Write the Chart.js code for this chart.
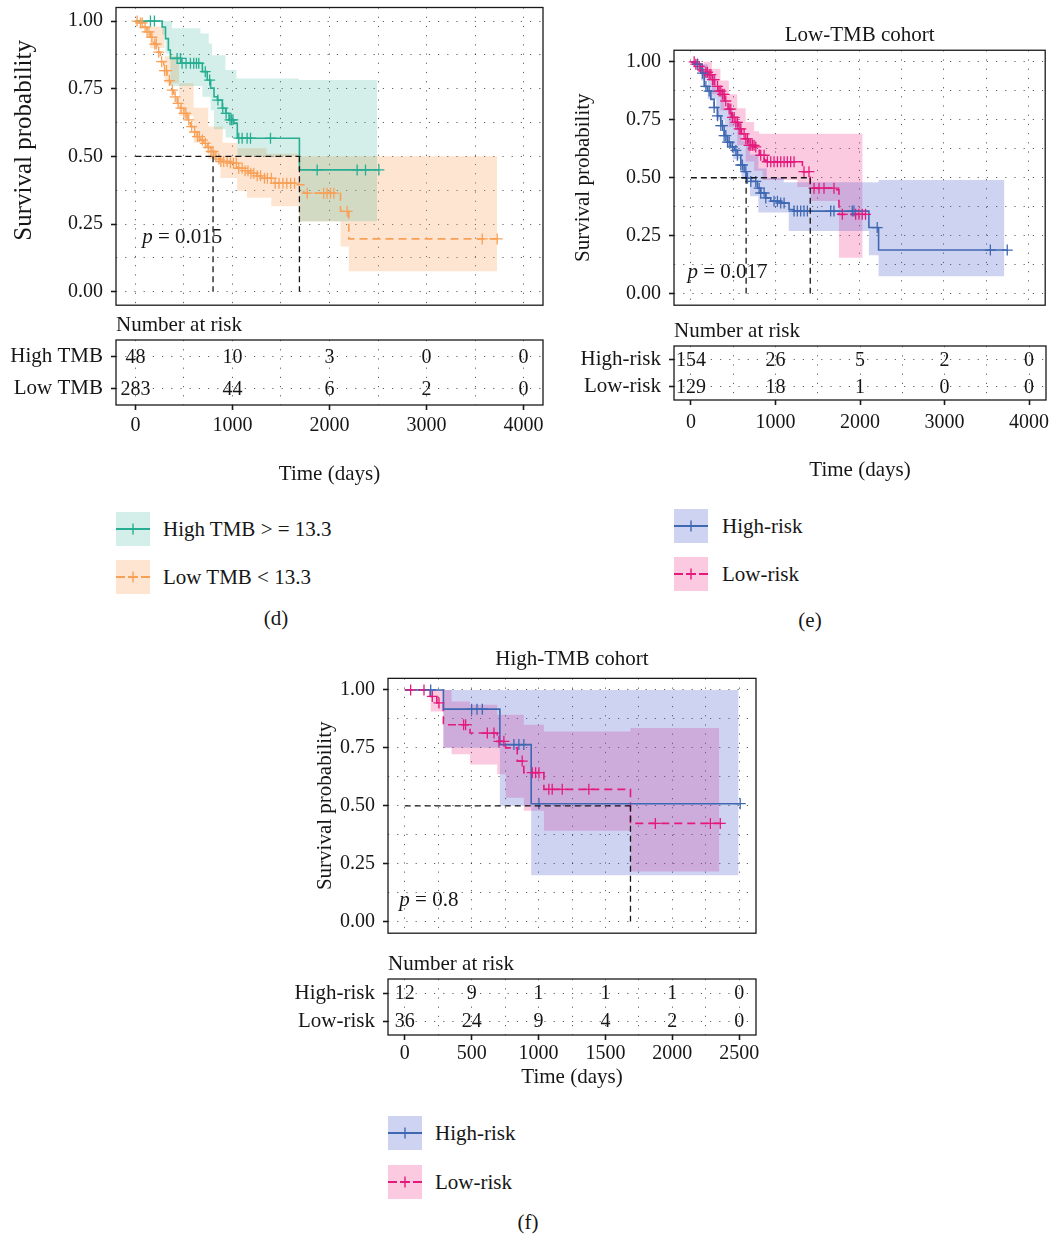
<!DOCTYPE html>
<html>
<head>
<meta charset="utf-8">
<title>Kaplan-Meier curves by TMB and risk group</title>
<script src="https://cdn.jsdelivr.net/npm/chart.js@4.4.1/dist/chart.umd.min.js"></script>
<style>
  html, body { margin: 0; padding: 0; background: #fff; }
  #page { position: relative; width: 1052px; height: 1237px; overflow: hidden;
          font-family: "Liberation Serif", "Times New Roman", serif; color: #161616; }
  #page canvas { position: absolute; }
  .lbl { position: absolute; font-size: 21px; line-height: 24px; white-space: nowrap; }
  .sw { position: absolute; }
</style>
</head>
<body>
<div id="page">
  <canvas id="kmD"></canvas>
  <canvas id="riskD"></canvas>
  <canvas id="kmE"></canvas>
  <canvas id="riskE"></canvas>
  <canvas id="kmF"></canvas>
  <canvas id="riskF"></canvas>
</div>
<script>
const FONT = '"Liberation Serif", "Times New Roman", serif';
Chart.defaults.font.family = FONT;
Chart.defaults.font.size = 21;
Chart.defaults.color = '#161616';

// colours
const tealLine = '#27ad92', tealBand = 'rgba(39,173,146,0.2)';
const orangeLine = '#f7a158', orangeBand = 'rgba(250,160,85,0.27)';
const blueLine = '#3f68b3', blueBand = 'rgba(70,85,205,0.26)';
const pinkLine = '#e31a7c', pinkBand = 'rgba(245,50,135,0.26)';

// axis ticks / grid
const survGrid = [0, 0.125, 0.25, 0.375, 0.5, 0.625, 0.75, 0.875, 1];
const survTicks = [0, 0.25, 0.5, 0.75, 1];
const dayGrid4000 = [0, 500, 1000, 1500, 2000, 2500, 3000, 3500, 4000];
const dayTicks4000 = [0, 1000, 2000, 3000, 4000];
const dayGrid2500 = [0, 250, 500, 750, 1000, 1250, 1500, 1750, 2000, 2250, 2500];
const dayTicks2500 = [0, 500, 1000, 1500, 2000, 2500];

// ---- (d) all patients, High vs Low TMB ----
const dHighSteps = [[0,1],[275,0.978],[310,0.935],[340,0.893],[360,0.862],[470,0.844],[690,0.813],[740,0.782],[775,0.752],[810,0.72],[845,0.708],[895,0.678],[930,0.659],[965,0.635],[1015,0.622],[1050,0.567],[1690,0.45],[2509,0.45]];
const dHighCensor = [155,196,430,464,481,522,567,601,629,653,720,765,850,900,935,975,990,1005,1065,1100,1151,1186,1392,1873,2285,2371,2509];
const dHighUpper = [[0,1],[378,0.973],[670,0.954],[756,0.917],[790,0.874],[928,0.819],[1041,0.788],[1684,0.782],[2491,0.782]];
const dHighLower = [[0,1],[275,0.95],[310,0.88],[360,0.76],[690,0.72],[775,0.67],[810,0.6],[930,0.57],[1050,0.5],[1690,0.26],[2491,0.26]];
const dLowSteps = [[0,1],[40,0.993],[86,0.977],[120,0.96],[155,0.94],[190,0.915],[223,0.885],[258,0.85],[292,0.817],[326,0.78],[361,0.745],[395,0.72],[430,0.696],[464,0.678],[498,0.659],[533,0.635],[567,0.61],[602,0.59],[636,0.573],[670,0.56],[704,0.548],[740,0.533],[773,0.518],[808,0.499],[840,0.49],[876,0.481],[979,0.475],[1048,0.456],[1120,0.447],[1186,0.438],[1250,0.428],[1323,0.419],[1426,0.401],[1666,0.395],[1735,0.364],[2113,0.297],[2199,0.195],[3728,0.195]];
const dLowCensor = [17,52,70,100,120,140,170,200,215,240,270,300,320,350,380,410,440,470,500,520,550,580,610,640,660,690,720,750,780,800,830,860,880,910,945,979,1010,1040,1065,1100,1130,1160,1190,1220,1255,1290,1330,1360,1400,1440,1480,1520,1560,1600,1640,1770,1940,1975,2010,2045,2182,3574,3728];
const dLowUpper = [[0,1],[150,0.98],[300,0.87],[450,0.77],[600,0.68],[750,0.61],[900,0.55],[1050,0.53],[1350,0.51],[1700,0.5],[3728,0.5]];
const dLowLower = [[0,1],[150,0.9],[300,0.77],[450,0.65],[600,0.55],[750,0.49],[876,0.42],[1048,0.372],[1150,0.347],[1400,0.316],[1684,0.259],[2113,0.167],[2199,0.075],[3728,0.075]];
const dMedians = [800, 1690];
const dRiskGroups = ['High TMB', 'Low TMB'];
const dRiskCounts = [[48, 10, 3, 0, 0], [283, 44, 6, 2, 0]];

// ---- (e) Low-TMB cohort, High vs Low risk ----
const eHighSteps = [[0,1],[60,0.99],[118,0.951],[158,0.894],[197,0.874],[237,0.838],[276,0.803],[316,0.767],[355,0.725],[394,0.682],[434,0.654],[473,0.633],[513,0.618],[552,0.597],[592,0.555],[631,0.526],[660,0.498],[710,0.484],[789,0.455],[828,0.434],[888,0.413],[947,0.399],[1065,0.391],[1164,0.363],[1223,0.356],[2110,0.285],[2225,0.188],[3750,0.188]];
const eHighCensor = [79,138,178,217,276,316,355,375,394,414,434,454,493,533,552,592,611,651,671,710,769,809,828,868,888,986,1026,1065,1105,1223,1262,1302,1341,1381,1657,1696,1913,1933,2209,3550,3750];
const eHighUpper = [[0,1],[120,0.99],[200,0.94],[300,0.88],[400,0.8],[500,0.74],[600,0.66],[700,0.6],[800,0.54],[900,0.5],[1100,0.48],[2110,0.48],[2225,0.49],[3716,0.49]];
const eHighLower = [[0,1],[120,0.92],[200,0.84],[300,0.75],[400,0.66],[500,0.58],[600,0.5],[700,0.42],[800,0.35],[1160,0.27],[2110,0.165],[2225,0.075],[3716,0.075]];
const eLowSteps = [[0,1],[40,0.99],[80,0.98],[120,0.965],[160,0.955],[200,0.945],[240,0.923],[280,0.894],[320,0.874],[360,0.86],[400,0.831],[440,0.796],[480,0.76],[520,0.739],[560,0.711],[600,0.689],[640,0.668],[680,0.64],[750,0.633],[810,0.597],[870,0.576],[905,0.569],[1322,0.526],[1415,0.455],[1700,0.448],[1755,0.342],[2070,0.342]];
const eLowCensor = [39,59,79,99,138,178,197,217,237,256,276,316,335,355,375,394,414,454,473,493,513,533,552,572,592,631,651,671,690,710,730,749,769,828,868,907,947,986,1026,1065,1105,1144,1183,1223,1341,1400,1460,1519,1578,1696,1795,1953,1992,2031,2070];
const eLowUpper = [[0,1],[150,1],[250,0.97],[350,0.92],[450,0.86],[550,0.8],[650,0.74],[750,0.7],[809,0.69],[2036,0.69]];
const eLowLower = [[0,1],[150,0.93],[250,0.86],[350,0.79],[450,0.72],[550,0.64],[650,0.57],[750,0.53],[850,0.49],[1262,0.46],[1420,0.4],[1755,0.155],[2036,0.155]];
const eMedians = [655, 1415];
const eRiskGroups = ['High-risk', 'Low-risk'];
const eRiskCounts = [[154, 26, 5, 2, 0], [129, 18, 1, 0, 0]];

// ---- (f) High-TMB cohort, High vs Low risk ----
const fHighSteps = [[0,1],[289,0.917],[711,0.764],[945,0.509],[2507,0.509]];
const fHighCensor = [194,500,540,580,816,853,890,1003,2507];
const fHighUpper = [[0,1],[2495,1]];
const fHighLower = [[0,1],[289,0.75],[711,0.5],[945,0.2],[2495,0.2]];
const fLowSteps = [[0,1],[190,0.972],[240,0.944],[289,0.85],[488,0.814],[691,0.778],[754,0.75],[841,0.693],[890,0.643],[1040,0.571],[1687,0.424],[2371,0.424]];
const fLowCensor = [44,144,206,256,440,455,617,667,704,741,878,953,978,1003,1077,1102,1177,1376,1873,2284,2358];
const fLowUpper = [[0,1],[350,0.95],[488,0.936],[691,0.893],[890,0.85],[1040,0.821],[1687,0.836],[2351,0.836]];
const fLowLower = [[0,1],[194,0.907],[289,0.75],[350,0.722],[488,0.678],[691,0.636],[754,0.535],[890,0.478],[1040,0.392],[1687,0.216],[2351,0.216]];
const fMedians = [1687];
const fRiskGroups = ['High-risk', 'Low-risk'];
const fRiskCounts = [[12, 9, 1, 1, 1, 0], [36, 24, 9, 4, 2, 0]];

const toPts = arr => arr.map(p => ({x: p[0], y: p[1]}));
function survAt(steps, t) {
  let s = steps[0][1];
  steps.forEach(p => { if (p[0] <= t) s = p[1]; });
  return s;
}
function place(id, left, top, w, h) {
  const c = document.getElementById(id);
  c.width = w; c.height = h;
  c.style.left = left + 'px'; c.style.top = top + 'px';
  c.style.width = w + 'px'; c.style.height = h + 'px';
  return c;
}
const dotted = {color: 'rgba(0,0,0,0.62)', lineWidth: 1};
const DASH = [1.2, 8];

// box, titles and p value on top of a KM panel
const kmDecor = {
  id: 'kmDecor',
  afterDraw(chart, args, o) {
    const {ctx, chartArea: a} = chart;
    ctx.save();
    ctx.strokeStyle = '#1a1a1a';
    ctx.lineWidth = 1.3;
    ctx.strokeRect(a.left, a.top, a.right - a.left, a.bottom - a.top);
    ctx.fillStyle = '#161616';
    ctx.textBaseline = 'middle';
    if (o.title) {
      ctx.font = '21px ' + FONT;
      ctx.textAlign = 'center';
      ctx.fillText(o.title, (a.left + a.right) / 2, a.top + o.titleDy);
    }
    ctx.save();
    ctx.translate(a.left - o.yTitleDx, (a.top + a.bottom) / 2 + o.yTitleDy);
    ctx.rotate(-Math.PI / 2);
    ctx.font = o.yTitleSize + 'px ' + FONT;
    ctx.textAlign = 'center';
    ctx.fillText('Survival probability', 0, 0);
    ctx.restore();
    const px = chart.scales.x.getPixelForValue(o.pval.x);
    const py = chart.scales.y.getPixelForValue(o.pval.y);
    ctx.textAlign = 'left';
    ctx.font = 'italic 21px ' + FONT;
    ctx.fillText('p', px, py);
    const w = ctx.measureText('p').width;
    ctx.font = '21px ' + FONT;
    ctx.fillText(' = ' + o.pval.text, px + w, py);
    ctx.restore();
  }
};

// numbers at risk, box and heading of a risk table
const riskDecor = {
  id: 'riskDecor',
  afterDatasetsDraw(chart) {
    const {ctx, chartArea: a} = chart;
    ctx.save();
    ctx.fillStyle = '#161616';
    ctx.font = '20px ' + FONT;
    ctx.textAlign = 'center';
    ctx.textBaseline = 'middle';
    chart.data.datasets.forEach((ds, i) => {
      chart.getDatasetMeta(i).data.forEach((pt, j) => ctx.fillText(String(ds.counts[j]), pt.x, pt.y + 1));
    });
    ctx.strokeStyle = '#1a1a1a';
    ctx.lineWidth = 1.3;
    ctx.strokeRect(a.left, a.top, a.right - a.left, a.bottom - a.top);
    ctx.font = '21px ' + FONT;
    ctx.textAlign = 'left';
    ctx.fillText('Number at risk', a.left, a.top - 15);
    ctx.restore();
  }
};

function medianLine(pts) {
  return {data: pts, borderColor: '#161616', borderWidth: 1.3, borderDash: [6, 4], pointRadius: 0, fill: false, order: 0};
}

function kmChart(id, box, p) {
  const c = place(id, box[0], box[1], box[2], box[3]);
  const datasets = [];
  p.groups.forEach(g => {
    datasets.push({data: toPts(g.upper), stepped: true, borderColor: 'transparent', borderWidth: 0, pointRadius: 0, fill: false, order: 4});
    datasets.push({data: toPts(g.lower), stepped: true, borderColor: 'transparent', borderWidth: 0, pointRadius: 0, fill: '-1', backgroundColor: g.band, order: 4});
    datasets.push({data: toPts(g.steps), stepped: true, borderColor: g.color, borderWidth: 1.6, borderDash: g.dash, pointRadius: 0, fill: false, order: 2});
    datasets.push({data: g.censor.map(t => ({x: t, y: survAt(g.steps, t)})), showLine: false, pointStyle: 'cross',
      pointRadius: 5.5, pointBorderColor: g.color, pointBackgroundColor: g.color, pointBorderWidth: 1.3, order: 1});
  });
  datasets.push(medianLine([{x: 0, y: 0.5}, {x: Math.max(...p.medians), y: 0.5}]));
  p.medians.forEach(m => datasets.push(medianLine([{x: m, y: 0.5}, {x: m, y: 0}])));

  return new Chart(c, {
    type: 'line',
    data: {datasets},
    options: {
      responsive: false, animation: false, events: [], devicePixelRatio: 1,
      layout: {padding: {top: p.padTop, right: p.padRight, left: 0, bottom: 0}},
      plugins: {legend: {display: false}, tooltip: {enabled: false},
        kmDecor: {title: p.title, titleDy: p.titleDy, yTitleDx: p.yTitleDx, yTitleDy: p.yTitleDy, yTitleSize: p.yTitleSize, pval: p.pval}},
      scales: {
        x: {
          type: 'linear', min: p.xMin, max: p.xMax,
          afterBuildTicks: s => { s.ticks = p.xGrid.map(v => ({value: v})); },
          afterFit: s => { s.height = p.xAxisH; s.paddingLeft = 0; s.paddingRight = 0; s.paddingTop = 0; s.paddingBottom = 0; },
          ticks: {display: false},
          grid: {...dotted, drawTicks: false, borderDash: DASH},
          border: {display: false, dash: DASH}
        },
        y: {
          type: 'linear', min: -0.05, max: 1.05,
          afterBuildTicks: s => { s.ticks = survGrid.map(v => ({value: v})); },
          afterFit: s => { s.width = p.yAxisW; s.paddingTop = 0; s.paddingBottom = 0; s.paddingLeft = 0; s.paddingRight = 0; },
          ticks: {font: {size: 20}, padding: 8, autoSkip: false, callback: v => survTicks.indexOf(v) >= 0 ? v.toFixed(2) : ''},
          grid: {...dotted, borderDash: DASH, tickLength: 5, tickWidth: 1.6, tickBorderDash: [],
            tickColor: ctx => (ctx.tick && survTicks.indexOf(ctx.tick.value) >= 0) ? '#1a1a1a' : 'rgba(0,0,0,0)'},
          border: {display: false, dash: DASH}
        }
      }
    },
    plugins: [kmDecor]
  });
}

function riskChart(id, box, p) {
  const c = place(id, box[0], box[1], box[2], box[3]);
  const datasets = p.groups.map((g, gi) => ({
    data: p.times.map(t => ({x: t, y: g})), counts: p.counts[gi], showLine: false, pointRadius: 0
  }));
  return new Chart(c, {
    type: 'line',
    data: {datasets},
    options: {
      responsive: false, animation: false, events: [], devicePixelRatio: 1,
      layout: {padding: {top: p.padTop, right: p.padRight, left: 0, bottom: 0}},
      plugins: {legend: {display: false}, tooltip: {enabled: false}},
      scales: {
        x: {
          type: 'linear', min: p.xMin, max: p.xMax,
          afterBuildTicks: s => { s.ticks = p.xGrid.map(v => ({value: v})); },
          afterFit: s => { s.height = p.xAxisH; s.paddingLeft = 0; s.paddingRight = 0; s.paddingTop = 0; s.paddingBottom = 0; },
          ticks: {font: {size: 20}, padding: p.tickPad, autoSkip: false, maxRotation: 0,
            callback: v => p.times.indexOf(v) >= 0 ? String(v) : ''},
          grid: {...dotted, borderDash: DASH, tickLength: 5, tickWidth: 1.6, tickBorderDash: [],
            tickColor: ctx => (ctx.tick && p.times.indexOf(ctx.tick.value) >= 0) ? '#1a1a1a' : 'rgba(0,0,0,0)'},
          border: {display: false, dash: DASH},
          title: {display: true, text: 'Time (days)', font: {size: 21}, padding: {top: 0, bottom: p.titlePad}}
        },
        y: {
          type: 'category', labels: p.groups, offset: true,
          afterFit: s => { s.width = p.yAxisW; s.paddingTop = 0; s.paddingBottom = 0; s.paddingLeft = 0; s.paddingRight = 0; },
          ticks: {font: {size: 21}, padding: 8, autoSkip: false},
          grid: {...dotted, offset: false, borderDash: DASH, tickLength: 5, tickWidth: 1.6, tickBorderDash: [], tickColor: '#1a1a1a'},
          border: {display: false, dash: DASH}
        }
      }
    },
    plugins: [riskDecor]
  });
}

// panel (d)
kmChart('kmD', [0, 0, 552, 312], {
  groups: [
    {steps: dHighSteps, censor: dHighCensor, upper: dHighUpper, lower: dHighLower, color: tealLine, band: tealBand, dash: []},
    {steps: dLowSteps, censor: dLowCensor, upper: dLowUpper, lower: dLowLower, color: orangeLine, band: orangeBand, dash: [8, 5]}
  ],
  medians: dMedians, xMin: -200, xMax: 4200, xGrid: dayGrid4000,
  padTop: 7.5, padRight: 9, yAxisW: 116, xAxisH: 6.5,
  title: '', titleDy: 0, yTitleDx: 92, yTitleDy: -16, yTitleSize: 25,
  pval: {x: 70, y: 0.2, text: '0.015'}
});
riskChart('riskD', [0, 312, 552, 178], {
  groups: dRiskGroups, counts: dRiskCounts, times: dayTicks4000, xGrid: dayGrid4000, xMin: -200, xMax: 4200,
  padTop: 28, padRight: 9, yAxisW: 116, xAxisH: 85, tickPad: 4, titlePad: 3.4
});

// panel (e)
kmChart('kmE', [560, 0, 492, 312], {
  groups: [
    {steps: eHighSteps, censor: eHighCensor, upper: eHighUpper, lower: eHighLower, color: blueLine, band: blueBand, dash: []},
    {steps: eLowSteps, censor: eLowCensor, upper: eLowUpper, lower: eLowLower, color: pinkLine, band: pinkBand, dash: [8, 5]}
  ],
  medians: eMedians, xMin: -200, xMax: 4200, xGrid: dayGrid4000,
  padTop: 50.25, padRight: 6, yAxisW: 114, xAxisH: 3.25,
  title: 'Low-TMB cohort', titleDy: -15, yTitleDx: 91, yTitleDy: 0, yTitleSize: 21,
  pval: {x: -40, y: 0.09, text: '0.017'}
});
riskChart('riskE', [560, 312, 492, 176], {
  groups: eRiskGroups, counts: eRiskCounts, times: dayTicks4000, xGrid: dayGrid4000, xMin: -200, xMax: 4200,
  padTop: 34, padRight: 6, yAxisW: 114, xAxisH: 88, tickPad: 6, titlePad: 5.4
});

// panel (f)
kmChart('kmF', [280, 640, 490, 300], {
  groups: [
    {steps: fHighSteps, censor: fHighCensor, upper: fHighUpper, lower: fHighLower, color: blueLine, band: blueBand, dash: []},
    {steps: fLowSteps, censor: fLowCensor, upper: fLowUpper, lower: fLowLower, color: pinkLine, band: pinkBand, dash: [8, 5]}
  ],
  medians: fMedians, xMin: -125, xMax: 2625, xGrid: dayGrid2500,
  padTop: 38.35, padRight: 14, yAxisW: 108, xAxisH: 5.35,
  title: 'High-TMB cohort', titleDy: -19, yTitleDx: 63, yTitleDy: 0, yTitleSize: 21,
  pval: {x: -40, y: 0.09, text: '0.8'}
});
riskChart('riskF', [280, 940, 490, 150], {
  groups: fRiskGroups, counts: fRiskCounts, times: dayTicks2500, xGrid: dayGrid2500, xMin: -125, xMax: 2625,
  padTop: 39, padRight: 14, yAxisW: 108, xAxisH: 55, tickPad: 2, titlePad: 0.4
});

// legends and panel letters
const legendD = [
  {label: 'High TMB > = 13.3', color: tealLine, band: tealBand, dashed: false},
  {label: 'Low TMB < 13.3', color: orangeLine, band: orangeBand, dashed: true}
];
const legendRisk = [
  {label: 'High-risk', color: blueLine, band: blueBand, dashed: false},
  {label: 'Low-risk', color: pinkLine, band: pinkBand, dashed: true}
];
const page = document.getElementById('page');
function swatch(it) {
  const line = it.dashed
    ? `<line x1="0" y1="17" x2="9" y2="17"/><line x1="12" y1="17" x2="22" y2="17"/><line x1="25" y1="17" x2="34" y2="17"/>`
    : `<line x1="0" y1="17" x2="34" y2="17"/>`;
  return `<svg width="34" height="34" xmlns="http://www.w3.org/2000/svg"><rect width="34" height="34" fill="${it.band}"/>` +
    `<g stroke="${it.color}" stroke-width="2">${line}<line x1="17" y1="11.5" x2="17" y2="22.5" stroke-width="1.4"/></g></svg>`;
}
function addLegend(items, left, top, step, textDx) {
  items.forEach((it, i) => {
    const y = top + i * step;
    const sw = document.createElement('div');
    sw.className = 'sw';
    sw.style.left = left + 'px'; sw.style.top = y + 'px';
    sw.innerHTML = swatch(it);
    page.appendChild(sw);
    const t = document.createElement('div');
    t.className = 'lbl';
    t.style.left = (left + textDx) + 'px'; t.style.top = (y + 5) + 'px';
    t.textContent = it.label;
    page.appendChild(t);
  });
}
function addText(text, cx, cy) {
  const t = document.createElement('div');
  t.className = 'lbl';
  t.style.left = (cx - 30) + 'px'; t.style.top = (cy - 12) + 'px';
  t.style.width = '60px'; t.style.textAlign = 'center';
  t.textContent = text;
  page.appendChild(t);
}
addLegend(legendD, 116, 512, 48, 47);
addLegend(legendRisk, 674, 509, 48, 48);
addLegend(legendRisk, 388, 1116, 49, 47);
addText('(d)', 276, 618);
addText('(e)', 810, 620);
addText('(f)', 528, 1222);
</script>
</body>
</html>
